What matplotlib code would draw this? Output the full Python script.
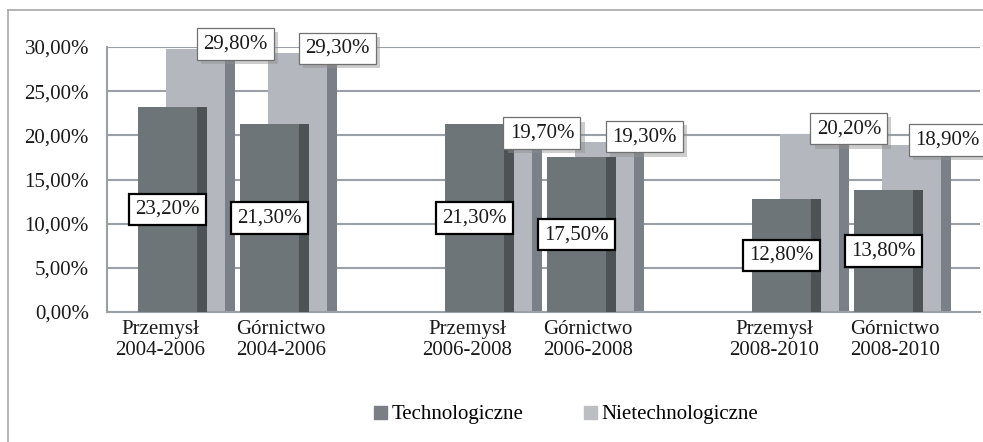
import matplotlib
matplotlib.use('Agg')
import numpy as np
import matplotlib.pyplot as plt
from matplotlib.patches import Patch
from matplotlib.lines import Line2D
import matplotlib.patheffects as pe

# ---- data ----
categories = ['Przemysł\n2004-2006', 'Górnictwo\n2004-2006',
              'Przemysł\n2006-2008', 'Górnictwo\n2006-2008',
              'Przemysł\n2008-2010', 'Górnictwo\n2008-2010']
tech = [23.2, 21.3, 21.3, 17.5, 12.8, 13.8]
nontech = [29.8, 29.3, 19.7, 19.3, 20.2, 18.9]
series = ['Technologiczne', 'Nietechnologiczne']
yticks = [0, 5, 10, 15, 20, 25, 30]

# ---- style ----
plt.rcParams['font.family'] = ['Liberation Serif', 'DejaVu Serif']
FS = 15
DF, DS = '#6e7578', '#4d5355'   # dark front / side
LF, LS = '#b4b8be', '#7a8087'   # light front / side
GRID = '#9aa0a6'

fig = plt.figure(figsize=(9.83, 4.42), dpi=100)
ax = fig.add_axes([107/983, 130/442, 873/983, 265/442])

# pairs per period, an empty slot between periods
pos = np.array([3*(i//2) + i % 2 for i in range(len(categories))], dtype=float)
W, S, OFF = 0.577, 0.098, 0.274

# light (back) bars
ax.bar(pos - W/2 + OFF, nontech, width=W, align='edge', color=LF, zorder=2)
ax.bar(pos - W/2 + OFF + W, nontech, width=S, align='edge', color=LS, zorder=2)
# dark (front) bars
ax.bar(pos - W/2, tech, width=W, align='edge', color=DF, zorder=3)
ax.bar(pos + W/2, tech, width=S, align='edge', color=DS, zorder=3)

def fmt(v):
    return f'{v:.2f}'.replace('.', ',') + '%'

for x, v in zip(pos, tech):
    ax.annotate(fmt(v), (x, v/2), ha='center', va='center', fontsize=FS,
                color='#1a1a1a', zorder=6, annotation_clip=False,
                bbox=dict(boxstyle='square,pad=0.3', fc='white', ec='black', lw=1.6))

for i, (x, v) in enumerate(zip(pos, nontech)):
    lx = x - W/2 + OFF + W + S - (0.04 if i == len(pos) - 1 else 0)
    t = ax.annotate(fmt(v), (lx, v), xytext=(0, 3.5), textcoords='offset points',
                    ha='center', va='center', fontsize=FS, color='#1a1a1a',
                    zorder=6, annotation_clip=False,
                    bbox=dict(boxstyle='square,pad=0.3', fc='white', ec='#707070', lw=0.9))
    t.get_bbox_patch().set_path_effects([
        pe.SimplePatchShadow(offset=(3, -3), shadow_rgbFace='#909090', alpha=0.45),
        pe.Normal()])

ax.set_xlim((107-167.5)/102.3, (980-167.5)/102.3)
ax.set_ylim(0, 30)
ax.set_yticks(yticks)
ax.set_yticklabels([f'{t:.2f}'.replace('.', ',') + '%' for t in yticks], fontsize=FS, color='#1a1a1a')
shift = np.array([-0.07 if i % 2 == 0 else 0.11 for i in range(len(categories))])
ax.set_xticks(pos + shift)
ax.set_xticklabels(categories, fontsize=FS, color='#1a1a1a', linespacing=1.1)
ax.tick_params(axis='both', length=0)
ax.tick_params(axis='y', pad=13)
ax.tick_params(axis='x', pad=6)

ax.set_axisbelow(True)
ax.yaxis.grid(True, color=GRID, lw=1.5)
for sp in ['top', 'right']:
    ax.spines[sp].set_visible(False)
for sp in ['left', 'bottom']:
    ax.spines[sp].set_color(GRID)
    ax.spines[sp].set_linewidth(1.5)

handles = [Patch(color='#7b7f85'), Patch(color='#bcbec2')]
fig.legend(handles, series, loc='center', bbox_to_anchor=(566/983, 27/442), ncol=2,
           frameon=False, handlelength=0.65, handleheight=0.6, handletextpad=0.2,
           columnspacing=2.9, fontsize=FS)

# outer chart border (left and top visible)
fig.add_artist(Line2D([8/983, 8/983], [0, 1 - 10/442], transform=fig.transFigure,
                      color='#a8a8a8', lw=1.2))
fig.add_artist(Line2D([8/983, 1], [1 - 10/442, 1 - 10/442], transform=fig.transFigure,
                      color='#a8a8a8', lw=1.2))

fig.savefig('out.png', dpi=100, facecolor='white')
